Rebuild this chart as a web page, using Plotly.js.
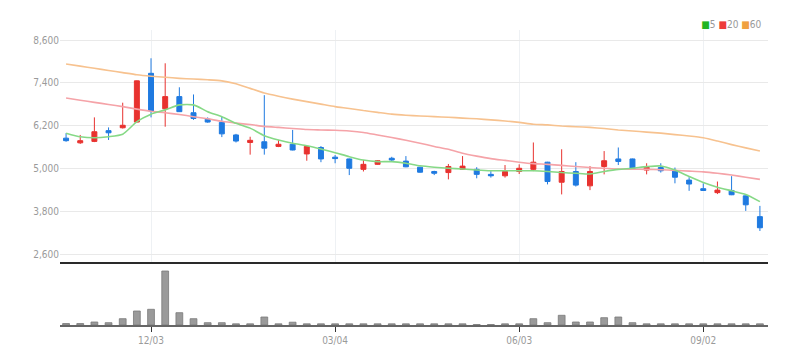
<!DOCTYPE html>
<html>
<head>
<meta charset="utf-8">
<script src="https://cdn.plot.ly/plotly-3.0.1.min.js"></script>
<style>html,body{margin:0;padding:0;background:#fff;}#chart{width:808px;height:364px;}
#chart text{font-stretch:condensed !important;}</style>
</head>
<body>
<div id="chart"></div>
<script>
const dates = ["2018-10-22","2018-10-29","2018-11-05","2018-11-12","2018-11-19","2018-11-26","2018-12-03","2018-12-10","2018-12-17","2018-12-24",
"2018-12-31","2019-01-07","2019-01-14","2019-01-21","2019-01-28","2019-02-04","2019-02-11","2019-02-18","2019-02-25","2019-03-04",
"2019-03-11","2019-03-18","2019-03-25","2019-04-01","2019-04-08","2019-04-15","2019-04-22","2019-04-29","2019-05-06","2019-05-13",
"2019-05-20","2019-05-27","2019-06-03","2019-06-10","2019-06-17","2019-06-24","2019-07-01","2019-07-08","2019-07-15","2019-07-22",
"2019-07-29","2019-08-05","2019-08-12","2019-08-19","2019-08-26","2019-09-02","2019-09-09","2019-09-16","2019-09-23","2019-09-30"];
const openP  = [5860,5730,5770,6070,6150,6310,7670,6680,7020,6570,6390,6300,5950,5740,5760,5630,5690,5420,5600,5330,5280,4990,5130,5300,5220,5050,4930,4900,4990,4990,4850,4810,4930,4990,5190,4630,4930,4530,5070,5280,5280,4970,5040,4950,4690,4450,4340,4400,4250,3670];
const highP  = [6000,5950,6440,6160,6850,7470,8090,7950,7280,7080,6440,6460,5980,5900,7060,5810,6090,5640,5640,5390,5290,5250,5250,5340,5360,5060,4950,5140,5360,5050,4940,5110,5130,5740,5200,5550,5190,5080,5500,5600,5290,5160,5160,5040,4770,4600,4650,4800,4260,3970];
const lowP   = [5760,5700,5750,5810,6130,6300,6440,6180,6590,6370,6290,5890,5740,5400,5400,5610,5520,5230,5190,5160,4830,4930,5120,5200,5050,4900,4830,4710,4980,4740,4760,4760,4860,4940,4570,4290,4510,4410,4850,5110,4980,4850,4900,4600,4390,4390,4300,4270,3830,3270];
const closeP = [5790,5790,6040,6010,6220,7460,6620,7020,6600,6410,6310,5980,5780,5800,5580,5690,5530,5630,5280,5290,5020,5130,5230,5250,5060,4910,4880,5070,5080,4850,4810,4930,5020,5190,4650,4930,4550,4930,5230,5210,4990,5050,4950,4770,4580,4400,4410,4280,4000,3360];
const ma5  = [6000,5900,5870,5900,5970,6320,6530,6650,6790,6790,6600,6460,6275,6140,5930,5810,5716,5650,5560,5456,5344,5250,5205,5205,5160,5090,5050,5020,5000,4970,4950,4950,4950,4950,4930,4900,4880,4860,4930,4990,5020,5065,5085,4970,4790,4620,4490,4390,4290,4090];
const ma20 = [6980,6920,6860,6800,6740,6670,6610,6570,6520,6460,6400,6330,6280,6240,6190,6160,6130,6100,6090,6080,6060,6020,5950,5880,5800,5720,5630,5550,5440,5360,5290,5240,5190,5150,5130,5100,5070,5040,5020,5000,4995,4990,4980,4960,4940,4920,4880,4830,4770,4710];
const ma60 = [7930,7870,7810,7750,7690,7630,7590,7560,7530,7510,7490,7460,7380,7250,7120,7030,6950,6880,6810,6740,6690,6630,6580,6530,6500,6480,6460,6445,6420,6400,6370,6340,6300,6250,6230,6200,6180,6160,6130,6090,6060,6030,6000,5960,5920,5870,5780,5680,5590,5500];
const volume = [15,15,30,23,63,140,157,540,123,63,23,23,12,12,80,12,28,12,12,12,12,12,12,12,12,12,12,12,12,5,5,12,12,63,23,97,30,30,73,80,23,12,12,12,12,12,12,12,12,12];
const yTicks = [2600,3800,5000,6200,7400,8600];
const xTickVals = ["2018-12-03","2019-03-04","2019-06-03","2019-09-02"];
const xTickText = ["12/03","03/04","06/03","09/02"];
const maNames = ["5","20","60"];

const FONT = "'DejaVu Sans','Liberation Sans Narrow',sans-serif";
const RED = "#e8322f", BLUE = "#1f7ae0";
const xRange = ["2018-10-19","2019-10-04"];

const traces = [
  {type:"scatter", mode:"lines", x:dates, y:ma60, line:{color:"#f7c28f", width:1.6, shape:"spline", smoothing:0.6}, xaxis:"x", yaxis:"y", hoverinfo:"skip"},
  {type:"scatter", mode:"lines", x:dates, y:ma20, line:{color:"#f5a3a8", width:1.6, shape:"spline", smoothing:0.6}, xaxis:"x", yaxis:"y", hoverinfo:"skip"},
  {type:"scatter", mode:"lines", x:dates, y:ma5, line:{color:"#86d986", width:1.6, shape:"spline", smoothing:0.6}, xaxis:"x", yaxis:"y", hoverinfo:"skip"},
  {type:"candlestick", x:dates, open:openP, high:highP, low:lowP, close:closeP, xaxis:"x", yaxis:"y",
    increasing:{line:{color:RED, width:1}, fillcolor:RED},
    decreasing:{line:{color:BLUE, width:1}, fillcolor:BLUE}, whiskerwidth:0},
  {type:"bar", x:dates, y:volume, xaxis:"x2", yaxis:"y2", width:7*24*3600*1000*0.48,
    marker:{color:"#9a9a9a", line:{color:"#7a7a7a", width:0.8}}}
];

const layout = {
  width:808, height:364, showlegend:false,
  margin:{l:0,r:0,t:0,b:0},
  boxgap:0.5,
  paper_bgcolor:"#fff", plot_bgcolor:"#fff",
  font:{family:FONT, size:10, color:"#999"},
  xaxis:{domain:[60/808,768/808], type:"date", range:xRange, rangeslider:{visible:false},
    tickvals:xTickVals, ticktext:xTickText, showticklabels:false, showgrid:true, gridcolor:"#eef1f4", gridwidth:1,
    showline:true, linecolor:"#2a2a2a", linewidth:2, zeroline:false, ticks:"", anchor:"y"},
  yaxis:{domain:[(364-262)/364,(364-30)/364], range:[2404,8879], tickvals:yTicks, tickformat:",d",
    showgrid:true, gridcolor:"#e9e9e9", gridwidth:1, zeroline:false, showline:false, ticks:"",
    tickfont:{family:FONT,size:10,color:"#9a9a9a"}, anchor:"x"},
  xaxis2:{domain:[60/808,768/808], type:"date", range:xRange, tickvals:xTickVals, ticktext:xTickText,
    showgrid:false, showline:true, linecolor:"#666", linewidth:1.5, ticks:"outside", ticklen:5, tickcolor:"#333",
    tickfont:{family:FONT,size:10,color:"#9a9a9a"}, zeroline:false, anchor:"y2"},
  yaxis2:{domain:[(364-325)/364,(364-265)/364], range:[0,600], showgrid:false, showticklabels:false,
    zeroline:false, showline:false, ticks:"", anchor:"x2"},
  annotations:[{xref:"paper", yref:"paper", x:767/808, y:(364-25)/364, xanchor:"right", yanchor:"middle",
    showarrow:false, font:{family:FONT,size:10,color:"#999"},
    text:'<span style="color:#22b522">■</span>'+maNames[0]+' <span style="color:#ee3a3a">■</span>'+maNames[1]+' <span style="color:#f0a040">■</span>'+maNames[2]}]
};

Plotly.newPlot("chart", traces, layout, {staticPlot:true, displayModeBar:false});
</script>
</body>
</html>
